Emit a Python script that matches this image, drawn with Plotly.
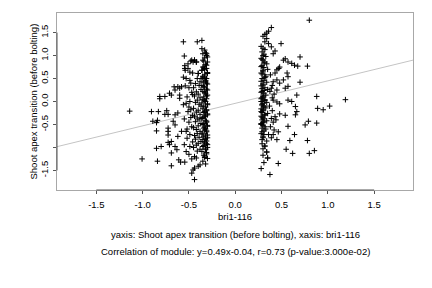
import plotly.graph_objects as go

# ---------------- data ----------------
left_top_x = [-0.56, -0.41, -0.36, -0.36, -0.33, -0.35, -0.31, -0.55, -0.47, -0.44,
              -0.42, -0.455, -0.35, -0.33, -0.36, -0.54, -0.51, -0.49, -0.40, -0.33,
              -0.36, -0.56, -0.53, -0.49, -0.545, -0.51, -0.545, -0.48, -0.46]
left_top_y = [1.30, 1.30, 1.33, 1.15, 1.12, 1.04, 1.04, 0.99, 0.90, 0.90,
              0.86, 0.86, 0.75, 0.72, 0.68, 0.68, 0.72, 0.64, 0.61, 0.53,
              0.50, 0.53, 0.50, 0.46, 0.78, 0.82, 0.72, 0.88, 0.62]

left_dense_x = [-0.31, -0.33, -0.35, -0.30, -0.32, -0.34, -0.31, -0.36, -0.30, -0.33,
                -0.35, -0.31, -0.32, -0.34, -0.30, -0.36, -0.33, -0.31, -0.35, -0.32,
                -0.30, -0.34, -0.31, -0.33, -0.36, -0.30, -0.32, -0.35, -0.31, -0.34,
                -0.30, -0.33, -0.36, -0.32, -0.31, -0.35, -0.30, -0.34, -0.33, -0.31,
                -0.36, -0.32, -0.30, -0.35, -0.33, -0.31, -0.34, -0.30, -0.32, -0.36,
                -0.31, -0.33, -0.30, -0.35, -0.32]
left_dense_y = [1.00, 0.95, 0.90, 0.86, 0.81, 0.75, 0.72, 0.68, 0.63, 0.58,
                0.53, 0.50, 0.46, 0.42, 0.38, 0.35, 0.31, 0.27, 0.22, 0.18,
                0.14, 0.10, 0.06, 0.02, -0.03, -0.07, -0.12, -0.16, -0.20, -0.24,
                -0.29, -0.33, -0.37, -0.41, -0.45, -0.50, -0.54, -0.58, -0.62, -0.66,
                -0.71, -0.75, -0.79, -0.83, -0.88, -0.92, -0.96, -1.00, -1.05, -1.09,
                -1.14, -1.19, -1.24, -1.30, -1.36]

left_dense2_x = [-0.32, -0.30, -0.34, -0.31, -0.33, -0.30, -0.35, -0.32, -0.31, -0.34,
                 -0.30, -0.33, -0.31, -0.35, -0.32, -0.30, -0.34, -0.31, -0.33, -0.30,
                 -0.32, -0.35, -0.31, -0.34, -0.30, -0.33, -0.32, -0.31, -0.35, -0.30,
                 -0.34, -0.32, -0.31, -0.33, -0.30, -0.35, -0.32, -0.31, -0.34, -0.33]
left_dense2_y = [1.06, 0.97, 0.88, 0.79, 0.70, 0.61, 0.55, 0.44, 0.40, 0.33,
                 0.25, 0.20, 0.12, 0.04, 0.00, -0.05, -0.10, -0.18, -0.22, -0.27,
                 -0.31, -0.35, -0.43, -0.48, -0.52, -0.56, -0.60, -0.64, -0.69, -0.73,
                 -0.77, -0.81, -0.86, -0.90, -0.94, -0.98, -1.03, -1.11, -1.17, -1.22]

left_mid_x = [-0.44, -0.42, -0.40, -0.41, -0.38, -0.43, -0.39, -0.45, -0.37, -0.42,
              -0.40, -0.44, -0.38, -0.41, -0.43, -0.39, -0.37, -0.45, -0.40, -0.42,
              -0.38, -0.44, -0.41, -0.39, -0.43, -0.37, -0.40, -0.45, -0.42, -0.38,
              -0.41, -0.44, -0.39, -0.43, -0.37, -0.40, -0.42, -0.45, -0.38, -0.41,
              -0.44, -0.42, -0.38, -0.40, -0.44, -0.455, -0.47, -0.44]
left_mid_y = [0.90, 0.86, 0.61, 0.50, 0.43, 0.39, 0.35, 0.30, 0.26, 0.21,
              0.16, 0.12, 0.08, 0.03, -0.02, -0.06, -0.10, -0.15, -0.19, -0.23,
              -0.28, -0.32, -0.36, -0.40, -0.44, -0.48, -0.53, -0.57, -0.61, -0.65,
              -0.70, -0.74, -0.78, -0.82, -0.87, -0.91, -0.95, -1.00, -1.04, -1.08,
              -1.20, -1.23, -1.38, -1.41, -1.45, -1.49, -1.56, -1.70]

left_outer_col_x = [-0.54, -0.50, -0.47, -0.52, -0.49, -0.53, -0.56, -0.48, -0.51, -0.46,
                    -0.55, -0.50, -0.47, -0.53, -0.49, -0.52, -0.46, -0.55, -0.49, -0.53,
                    -0.50, -0.545, -0.47, -0.48, -0.46, -0.50, -0.52, -0.48]
left_outer_col_y = [0.34, 0.30, 0.20, 0.10, 0.00, -0.04, -0.07, -0.18, -0.22, -0.30,
                    -0.38, -0.45, -0.55, -0.65, -0.72, -0.80, -0.88, -0.94, -0.98, -1.09,
                    -1.15, -1.32, -1.25, 0.40, 0.15, -0.12, -0.60, -0.35]

left_far_x = [-1.14, -0.905, -0.83, -0.74, -0.76, -0.725, -0.815, -0.76, -0.815, -0.71,
              -0.69, -0.65, -0.60, -0.60, -0.60, -0.89, -0.85, -0.85, -0.725, -0.725,
              -0.725, -0.67, -0.65, -0.65, -0.62, -0.58, -0.62, -1.006, -0.84, -0.85,
              -0.80, -0.725, -0.69, -0.71, -0.65, -0.63, -0.69, -0.69, -0.61, -0.59,
              -0.66, -0.62, -0.58, -0.84]
left_far_y = [-0.21, -0.22, -0.22, -0.20, -0.28, -0.28, 0.11, 0.11, 0.06, 0.18,
              0.14, 0.25, 0.29, 0.14, 0.07, -0.43, -0.46, -0.64, -0.58, -0.65,
              -0.73, -0.43, -0.51, -0.29, -0.25, -0.65, -0.76, -1.25, -1.30, -1.02,
              -0.98, -0.89, -0.87, -0.94, -0.98, -1.05, -1.12, -1.40, -1.27, -1.32,
              0.32, 0.32, 0.32, -0.41]

right_top_x = [0.80, 0.39, 0.36, 0.34, 0.32, 0.30, 0.34, 0.32, 0.495, 0.36,
               0.39, 0.30, 0.32, 0.43, 0.41]
right_top_y = [1.77, 1.61, 1.53, 1.49, 1.46, 1.42, 1.37, 1.30, 1.26, 1.26,
               1.19, 1.16, 1.13, 1.10, 1.04]

right_dense_x = [0.29, 0.31, 0.33, 0.28, 0.30, 0.32, 0.34, 0.29, 0.31, 0.35,
                 0.30, 0.28, 0.32, 0.33, 0.29, 0.31, 0.34, 0.30, 0.28, 0.32,
                 0.35, 0.29, 0.31, 0.33, 0.30, 0.28, 0.32, 0.34, 0.29, 0.31,
                 0.33, 0.30, 0.28, 0.35, 0.32, 0.29, 0.31, 0.34, 0.30, 0.28,
                 0.32, 0.33, 0.29, 0.31, 0.30, 0.34, 0.29, 0.32, 0.30, 0.34,
                 0.30, 0.35, 0.31, 0.28]
right_dense_y = [1.08, 1.03, 0.98, 0.94, 0.90, 0.86, 0.82, 0.78, 0.74, 0.70,
                 0.66, 0.62, 0.58, 0.54, 0.50, 0.46, 0.42, 0.38, 0.34, 0.30,
                 0.26, 0.22, 0.18, 0.14, 0.10, 0.06, 0.02, -0.02, -0.06, -0.10,
                 -0.14, -0.18, -0.22, -0.26, -0.30, -0.34, -0.38, -0.42, -0.46, -0.50,
                 -0.55, -0.60, -0.66, -0.72, -0.79, -0.86, -0.92, -0.97, -1.03, -1.10,
                 -1.17, -1.23, -1.33, -1.46]

right_dense2_x = [0.28, 0.30, 0.29, 0.31, 0.28, 0.30, 0.29, 0.32, 0.28, 0.30,
                  0.29, 0.31, 0.28, 0.30, 0.29, 0.32, 0.28, 0.30, 0.29, 0.31,
                  0.28, 0.30, 0.29, 0.32, 0.28, 0.30, 0.29, 0.31, 0.28, 0.30,
                  0.29, 0.31, 0.28, 0.30, 0.29]
right_dense2_y = [1.20, 1.00, 0.92, 0.84, 0.76, 0.68, 0.60, 0.52, 0.44, 0.36,
                  0.28, 0.24, 0.20, 0.12, 0.08, 0.04, 0.00, -0.04, -0.08, -0.12,
                  -0.16, -0.20, -0.24, -0.28, -0.32, -0.36, -0.40, -0.44, -0.48, -0.52,
                  -0.58, -0.64, -0.70, -0.77, -0.83]

right_mid_x = [0.54, 0.52, 0.48, 0.47, 0.45, 0.43, 0.52, 0.45, 0.41, 0.48,
               0.39, 0.45, 0.375, 0.42, 0.40, 0.41, 0.45, 0.48, 0.40, 0.48,
               0.43, 0.39, 0.44, 0.41, 0.38, 0.42, 0.465, 0.36, 0.41, 0.39,
               0.45, 0.35, 0.465, 0.375, 0.38, 0.40, 0.37, 0.32, 0.34]
right_mid_y = [0.93, 0.90, 0.75, 0.72, 0.69, 0.62, 0.47, 0.47, 0.43, 0.40,
               0.29, 0.25, 0.22, 0.16, 0.08, 0.03, -0.01, -0.05, -0.20, -0.27,
               -0.33, -0.37, -0.40, -0.45, -0.55, -0.62, -0.66, -0.72, -0.72, -0.79,
               -0.83, -1.23, -1.35, -1.59, 0.58, 0.35, -0.10, -0.97, -1.10]

right_far_x = [0.57, 0.61, 0.64, 0.70, 0.675, 0.78, 0.56, 0.57, 0.70, 0.54,
               0.57, 0.88, 0.57, 0.61, 0.65, 0.665, 0.65, 0.89, 0.95, 1.02,
               1.19, 0.54, 0.79, 0.755, 0.88, 0.57, 0.64, 0.59, 0.78, 0.855,
               0.80, 0.55, 0.62, 0.665]
right_far_y = [0.86, 0.83, 0.79, 0.97, 0.77, 0.77, 0.62, 0.54, 0.42, 0.29,
               0.33, 0.11, 0.03, 0.00, -0.11, -0.22, -0.29, -0.15, -0.18, -0.10,
               0.04, -0.30, -0.43, -0.51, -0.47, -0.54, -0.72, -0.85, -0.85, -1.07,
               -1.13, -1.04, -1.13, 0.14]

slope = 0.49
intercept = -0.04
x_range = [-1.925, 1.92]
y_range = [-1.927, 1.927]
x_ticks = [-1.5, -1.0, -0.5, 0.0, 0.5, 1.0, 1.5]
x_tick_text = ["-1.5", "-1.0", "-0.5", "0.0", "0.5", "1.0", "1.5"]
y_ticks = [-1.5, -1.0, -0.5, 0.0, 0.5, 1.0, 1.5]
y_tick_text = ["-1.5", "", "-0.5", "0.0", "0.5", "1.0", "1.5"]

x_label = "bri1-116"
y_label = "Shoot apex transition (before bolting)"
caption1 = "yaxis: Shoot apex transition (before bolting), xaxis: bri1-116"
caption2 = "Correlation of module: y=0.49x-0.04, r=0.73 (p-value:3.000e-02)"

# ---------------- figure ----------------
FONT = "Liberation Sans, Arial, Helvetica, sans-serif"
TXT = dict(family=FONT, size=9.5, color="black")

all_x = (left_top_x + left_dense_x + left_dense2_x + left_mid_x + left_outer_col_x + left_far_x
         + right_top_x + right_dense_x + right_dense2_x + right_mid_x + right_far_x)
all_y = (left_top_y + left_dense_y + left_dense2_y + left_mid_y + left_outer_col_y + left_far_y
         + right_top_y + right_dense_y + right_dense2_y + right_mid_y + right_far_y)

line_x = x_range
line_y = [slope * v + intercept for v in line_x]

fig = go.Figure()
fig.add_trace(go.Scatter(x=line_x, y=line_y, mode="lines",
                         line=dict(color="#c4c4c4", width=1), hoverinfo="skip"))
fig.add_trace(go.Scatter(x=all_x, y=all_y, mode="markers",
                         marker=dict(symbol="cross-thin", size=4, color="black",
                                     line=dict(color="black", width=1))))

# axis segments (R style) from first to last tick
fig.add_shape(type="line", xref="x", yref="paper", x0=x_ticks[0], x1=x_ticks[-1], y0=0, y1=0,
              line=dict(color="#555555", width=1))
fig.add_shape(type="line", xref="paper", yref="y", x0=0, x1=0, y0=y_ticks[0], y1=y_ticks[-1],
              line=dict(color="#555555", width=1))

W, H = 432, 288
ml, mr, mt, mb = 57, 19, 13, 98
pw, ph = W - ml - mr, H - mt - mb

def py(pixel_y):
    return (H - mb - pixel_y) / ph

def px(pixel_x):
    return (pixel_x - ml) / pw

fig.update_layout(
    width=W, height=H,
    margin=dict(l=ml, r=mr, t=mt, b=mb, pad=0),
    paper_bgcolor="white", plot_bgcolor="white",
    showlegend=False,
    font=TXT,
    xaxis=dict(range=x_range, tickvals=x_ticks, ticktext=x_tick_text,
               showgrid=False, zeroline=False, showline=True, mirror=True,
               linecolor="#a8a8a8", linewidth=1,
               ticks="outside", ticklen=3, tickcolor="#555555", tickwidth=1,
               ticklabelstandoff=3,
               tickfont=TXT),
    yaxis=dict(range=y_range, tickvals=y_ticks, ticktext=y_tick_text,
               showgrid=False, zeroline=False, showline=True, mirror=True,
               linecolor="#a8a8a8", linewidth=1,
               ticks="outside", ticklen=3, tickcolor="#555555", tickwidth=1,
               tickangle=-90, ticklabelstandoff=1,
               tickfont=TXT),
    annotations=[
        dict(text=x_label, xref="paper", yref="paper", x=0.5, y=py(216),
             xanchor="center", yanchor="middle", showarrow=False, font=TXT),
        dict(text=y_label, xref="paper", yref="paper", x=px(33), y=0.5,
             xanchor="center", yanchor="middle", textangle=-90, showarrow=False, font=TXT),
        dict(text=caption1, xref="paper", yref="paper", x=0.5, y=py(234),
             xanchor="center", yanchor="middle", showarrow=False, font=TXT),
        dict(text=caption2, xref="paper", yref="paper", x=0.5, y=py(251),
             xanchor="center", yanchor="middle", showarrow=False, font=TXT),
    ],
)

fig.write_html("out.html")
